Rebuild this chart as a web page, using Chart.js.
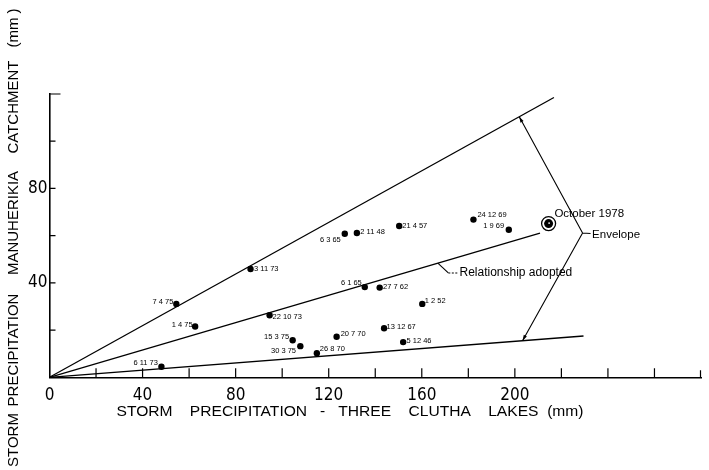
<!DOCTYPE html>
<html>
<head>
<meta charset="utf-8">
<script src="https://cdn.jsdelivr.net/npm/chart.js@4.4.1/dist/chart.umd.min.js"></script>
<style>
  html, body { margin: 0; padding: 0; background: #fff; }
  #wrap { width: 709px; height: 470px; position: relative; }
</style>
</head>
<body>
<div id="wrap"><canvas id="c" width="709" height="470"></canvas></div>
<script>
// Storm events: date (day month year), three Clutha lakes precipitation (mm),
// Manuherikia catchment precipitation (mm)
const stormDates = ['7 4 75', '1 4 75', '6 11 73', '3 11 73', '6 3 65', '2 11 48', '21 4 57',
  '22 10 73', '6 1 65', '27 7 62', '1 2 52', '13 12 67', '20 7 70', '15 3 75', '30 3 75',
  '26 8 70', '5 12 46', '24 12 69', '1 9 69'];
const lakesPrecip = [54.5, 62.6, 48.1, 86.4, 126.9, 132.1, 150.3,
  94.6, 135.5, 141.9, 160.2, 143.8, 123.4, 104.5, 107.8,
  114.9, 152.0, 182.2, 197.4];
const manuherikiaPrecip = [31.1, 21.5, 4.5, 45.9, 60.8, 61.1, 64.1,
  26.3, 38.2, 38.0, 31.1, 20.8, 17.2, 15.7, 13.2,
  10.2, 14.9, 66.8, 62.5];

// October 1978 storm
const october1978 = [214.5, 65.1];

// Straight lines from the origin: [lakes mm, catchment mm] at their far ends
const upperEnvelopeEnd = [216.8, 118.5];
const relationshipEnd = [210.8, 61.1];
const lowerEnvelopeEnd = [229.5, 17.5];

// Axis ticks and labels
const xTickLabels = [0, 40, 80, 120, 160, 200];
const yTickLabels = [40, 80];
const xTickMarks = [20, 40, 60, 80, 100, 120, 140, 160, 180, 200, 220, 240, 260];
const yTickMarks = [20, 40, 60, 80, 100];

// Axis title words
const xTitle = 'STORM    PRECIPITATION   -   THREE    CLUTHA    LAKES  (mm)';
const yTitleWords = ['STORM', 'PRECIPITATION', 'MANUHERIKIA', 'CATCHMENT', '(mm )'];

// Where each date label sits next to its dot: [dx px, dy px, align]
const dateLabelPlacement = [
  [-3, -2, 'right'], [-2.5, -2, 'right'], [-3.5, -3.5, 'right'], [3.5, 0, 'left'],
  [-4, 6, 'right'], [3.5, -1.5, 'left'], [3, 0, 'left'], [3, 2, 'left'],
  [-3, -4, 'right'], [3.4, -1, 'left'], [2.5, -3.3, 'left'], [2.5, -1.6, 'left'],
  [4, -2.4, 'left'], [-3.6, -3.6, 'right'], [-4.3, 4.4, 'right'], [3, -4, 'left'],
  [3.3, -1.3, 'left'], [4, -5, 'left'], [-4.7, -4.3, 'right']
];
// vertical centres (px) of the rotated y-title words
const yTitleWordCentres = [440, 350, 223, 107, 28];

const INK = '#000';
const FONT = '"Liberation Sans", Arial, sans-serif';
const NARROW = '"DejaVu Sans Condensed", "Liberation Sans", sans-serif';

const stormPoints = lakesPrecip.map((x, i) => ({ x, y: manuherikiaPrecip[i] }));
const lineFrom = (end) => [{ x: 0, y: 0 }, { x: end[0], y: end[1] }];

function arrowHead(ctx, fx, fy, tx, ty, len) {
  const a = Math.atan2(ty - fy, tx - fx);
  ctx.beginPath();
  ctx.moveTo(tx, ty);
  ctx.lineTo(tx - len * Math.cos(a - 0.3), ty - len * Math.sin(a - 0.3));
  ctx.lineTo(tx - len * Math.cos(a + 0.3), ty - len * Math.sin(a + 0.3));
  ctx.closePath();
  ctx.fill();
}

function fittedText(ctx, text, cx, cy, span) {
  ctx.save();
  ctx.translate(cx, cy);
  const w = ctx.measureText(text).width;
  ctx.scale(span / w, 1);
  ctx.textAlign = 'center';
  ctx.textBaseline = 'middle';
  ctx.fillText(text, 0, 0);
  ctx.restore();
}

const decorations = {
  id: 'decorations',
  afterDatasetsDraw(chart) {
    const { ctx } = chart;
    const xs = chart.scales.x, ys = chart.scales.y;
    const X = (v) => xs.getPixelForValue(v);
    const Y = (v) => ys.getPixelForValue(v);
    ctx.save();
    ctx.strokeStyle = INK;
    ctx.fillStyle = INK;

    // inward tick marks
    ctx.lineWidth = 1.2;
    ctx.beginPath();
    xTickMarks.forEach(v => { ctx.moveTo(X(v), ys.bottom); ctx.lineTo(X(v), ys.bottom - 9); });
    ctx.moveTo(xs.right - 0.5, ys.bottom); ctx.lineTo(xs.right - 0.5, ys.bottom - 7);
    yTickMarks.forEach(v => { ctx.moveTo(xs.left, Y(v)); ctx.lineTo(xs.left + 6, Y(v)); });
    ctx.moveTo(xs.left, Y(120)); ctx.lineTo(xs.left + 11, Y(120));
    ctx.stroke();

    // October 1978 ring
    const ox = X(october1978[0]), oy = Y(october1978[1]);
    ctx.lineWidth = 1.3;
    ctx.beginPath(); ctx.arc(ox, oy, 7, 0, Math.PI * 2); ctx.stroke();
    ctx.beginPath(); ctx.arc(ox, oy, 4.5, 0, Math.PI * 2); ctx.fill();
    ctx.fillStyle = '#fff';
    ctx.beginPath(); ctx.arc(ox + 0.5, oy - 0.5, 0.9, 0, Math.PI * 2); ctx.fill();
    ctx.fillStyle = INK;

    // date labels
    ctx.font = '7.5px ' + FONT;
    ctx.textBaseline = 'middle';
    const meta = chart.getDatasetMeta(0);
    meta.data.forEach((pt, i) => {
      const [dx, dy, align] = dateLabelPlacement[i];
      ctx.textAlign = align;
      ctx.fillText(stormDates[i], pt.x + dx, pt.y + dy);
    });

    // Envelope bracket
    const relSlope = relationshipEnd[1] / relationshipEnd[0];
    const upSlope = upperEnvelopeEnd[1] / upperEnvelopeEnd[0];
    const loSlope = lowerEnvelopeEnd[1] / lowerEnvelopeEnd[0];
    const vx = X(229.1), vy = Y(61.1);
    const ux = X(201.9), uy = Y(201.9 * upSlope);
    const lx = X(203.3), ly = Y(203.3 * loSlope);
    ctx.lineWidth = 1.1;
    ctx.beginPath();
    ctx.moveTo(vx, vy); ctx.lineTo(ux, uy);
    ctx.moveTo(vx, vy); ctx.lineTo(lx, ly);
    ctx.moveTo(vx, vy); ctx.lineTo(vx + 8, vy + 0.5);
    ctx.stroke();
    arrowHead(ctx, vx, vy, ux, uy, 6);
    arrowHead(ctx, vx, vy, lx, ly, 6);

    // Relationship leader
    const rx = X(166.9), ry = Y(166.9 * relSlope);
    const kx = X(171.4), ky = Y(44.2);
    ctx.beginPath(); ctx.moveTo(rx, ry); ctx.lineTo(kx, ky); ctx.stroke();
    ctx.setLineDash([2, 1.5]);
    ctx.beginPath(); ctx.moveTo(kx, ky); ctx.lineTo(X(175.6), ky); ctx.stroke();
    ctx.setLineDash([]);

    // annotation texts
    ctx.textAlign = 'left';
    ctx.textBaseline = 'middle';
    ctx.font = '12px ' + FONT;
    ctx.fillText('Relationship adopted', X(176.2), Y(44.3));
    ctx.font = '11.5px ' + FONT;
    ctx.fillText('October 1978', X(217.0), Y(69.2));
    ctx.fillText('Envelope', X(233.2), Y(60.4));

    // axis titles
    ctx.font = '15px ' + FONT;
    fittedText(ctx, xTitle, 350, 412, 467);
    ctx.save();
    ctx.translate(14, 0);
    ctx.rotate(-Math.PI / 2);
    ctx.textAlign = 'center';
    ctx.textBaseline = 'middle';
    yTitleWords.forEach((w, i) => ctx.fillText(w, -yTitleWordCentres[i], 0));
    ctx.restore();
    ctx.restore();
  }
};

new Chart(document.getElementById('c'), {
  type: 'scatter',
  data: {
    datasets: [
      {
        data: stormPoints,
        pointRadius: 3.2,
        pointBackgroundColor: INK,
        pointBorderColor: INK,
        pointBorderWidth: 0
      },
      {
        data: lineFrom(upperEnvelopeEnd), showLine: true, pointRadius: 0,
        borderColor: INK, borderWidth: 1.3
      },
      {
        data: lineFrom(relationshipEnd), showLine: true, pointRadius: 0,
        borderColor: INK, borderWidth: 1.3
      },
      {
        data: lineFrom(lowerEnvelopeEnd), showLine: true, pointRadius: 0,
        borderColor: INK, borderWidth: 1.3
      }
    ]
  },
  options: {
    responsive: false,
    animation: false,
    devicePixelRatio: 1,
    layout: { padding: { top: 94, right: 2, left: 0, bottom: 0 } },
    plugins: { legend: { display: false }, tooltip: { enabled: false } },
    scales: {
      x: {
        type: 'linear', min: 0, max: 280,
        afterFit(s) { s.height = 92.7; },
        grid: { display: false, drawTicks: false },
        border: { display: true, color: INK, width: 1.6 },
        ticks: {
          stepSize: 20, autoSkip: false, maxRotation: 0, minRotation: 0, padding: 8,
          color: INK, font: { family: NARROW, size: 17 },
          callback: (v) => xTickLabels.includes(v) ? String(v) : ''
        }
      },
      y: {
        type: 'linear', min: 0, max: 120,
        afterFit(s) { s.width = 49.5; },
        grid: { display: false, drawTicks: false },
        border: { display: true, color: INK, width: 1.6 },
        ticks: {
          stepSize: 20, autoSkip: false, padding: 2,
          color: INK, font: { family: NARROW, size: 17 },
          callback: (v) => yTickLabels.includes(v) ? String(v) : ''
        }
      }
    }
  },
  plugins: [decorations]
});
</script>
</body>
</html>
